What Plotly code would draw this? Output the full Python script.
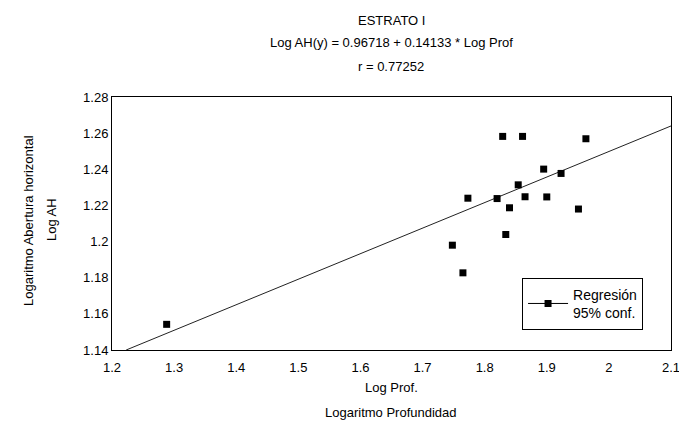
import numpy as np
import plotly.graph_objects as go

# Data
log_prof = [1.288, 1.748, 1.765, 1.773, 1.820, 1.829, 1.834, 1.840, 1.854,
            1.861, 1.865, 1.895, 1.900, 1.923, 1.951, 1.963]
log_ah = [1.1542, 1.1980, 1.1827, 1.2240, 1.2238, 1.2582, 1.2039, 1.2187, 1.2314,
          1.2582, 1.2248, 1.2401, 1.2247, 1.2377, 1.2180, 1.2569]
intercept = 0.96718
slope = 0.14133
r_value = 0.77252
x_ticks = [1.2, 1.3, 1.4, 1.5, 1.6, 1.7, 1.8, 1.9, 2.0, 2.1]
x_tick_labels = ["1.2", "1.3", "1.4", "1.5", "1.6", "1.7", "1.8", "1.9", "2", "2.1"]
y_ticks = [1.14, 1.16, 1.18, 1.2, 1.22, 1.24, 1.26, 1.28]
y_tick_labels = ["1.14", "1.16", "1.18", "1.2", "1.22", "1.24", "1.26", "1.28"]

x_min, x_max = 1.2, 2.1
y_min, y_max = 1.14, 1.28

# regression line clipped to the plot box
x_start = max(x_min, (y_min - intercept) / slope)
line_x = np.linspace(x_start, x_max, 50)
line_y = intercept + slope * line_x

font = "Liberation Sans, Arial, sans-serif"
L, R, T, B = 104, 24, 89, 84
W, H = 687, 426

fig = go.Figure()
fig.add_trace(go.Scatter(x=line_x, y=line_y, mode="lines",
                         line=dict(color="#222", width=1), showlegend=False,
                         hoverinfo="skip"))
fig.add_trace(go.Scatter(x=log_prof, y=log_ah, mode="markers",
                         marker=dict(symbol="square", size=7, color="black"),
                         showlegend=False))
fig.add_trace(go.Scatter(x=[None], y=[None], mode="lines+markers",
                         name="Regresión<br>95% conf.",
                         line=dict(color="black", width=1),
                         marker=dict(symbol="square", size=7, color="black")))

fig.update_layout(
    width=W, height=H,
    margin=dict(l=L, r=R, t=T, b=B),
    paper_bgcolor="white", plot_bgcolor="white",
    font=dict(family=font, size=12, color="black"),
    showlegend=True,
    legend=dict(x=0.95, y=0.08, xanchor="right", yanchor="bottom",
                bgcolor="white", bordercolor="black", borderwidth=1,
                font=dict(size=14), itemwidth=40),
    xaxis=dict(range=[x_min, x_max], tickvals=x_ticks, ticktext=x_tick_labels,
               showgrid=False, zeroline=False, showline=True, linecolor="black",
               linewidth=1, mirror=True, ticks="", tickfont=dict(size=13),
               ticklabelstandoff=5),
    yaxis=dict(range=[y_min, y_max], tickvals=y_ticks, ticktext=y_tick_labels,
               showgrid=False, zeroline=False, showline=True, linecolor="black",
               linewidth=1, mirror=True, ticks="", tickfont=dict(size=13)),
)

def px_to_paper_x(px):
    return (px - L) / (W - L - R)

def px_to_paper_y(py):
    return (H - B - py) / (H - T - B)

titles = [("ESTRATO I", 13), ("Log AH(y) = 0.96718 + 0.14133 * Log Prof", 35),
          ("r = 0.77252", 58)]
for txt, py in titles:
    fig.add_annotation(text=txt, xref="paper", yref="paper",
                       x=px_to_paper_x(383), y=px_to_paper_y(py),
                       xanchor="center", yanchor="middle", showarrow=False,
                       font=dict(size=13))

fig.add_annotation(text="Log Prof.", xref="paper", yref="paper",
                   x=px_to_paper_x(383), y=px_to_paper_y(379),
                   xanchor="center", yanchor="middle", showarrow=False, font=dict(size=13))
fig.add_annotation(text="Logaritmo Profundidad", xref="paper", yref="paper",
                   x=px_to_paper_x(383), y=px_to_paper_y(404),
                   xanchor="center", yanchor="middle", showarrow=False, font=dict(size=13))
fig.add_annotation(text="Logaritmo Abertura horizontal", xref="paper", yref="paper",
                   x=px_to_paper_x(20), y=px_to_paper_y(212), textangle=-90,
                   xanchor="center", yanchor="middle", showarrow=False, font=dict(size=13))
fig.add_annotation(text="Log AH", xref="paper", yref="paper",
                   x=px_to_paper_x(43), y=px_to_paper_y(212), textangle=-90,
                   xanchor="center", yanchor="middle", showarrow=False, font=dict(size=13))

fig.write_html("out.html")
